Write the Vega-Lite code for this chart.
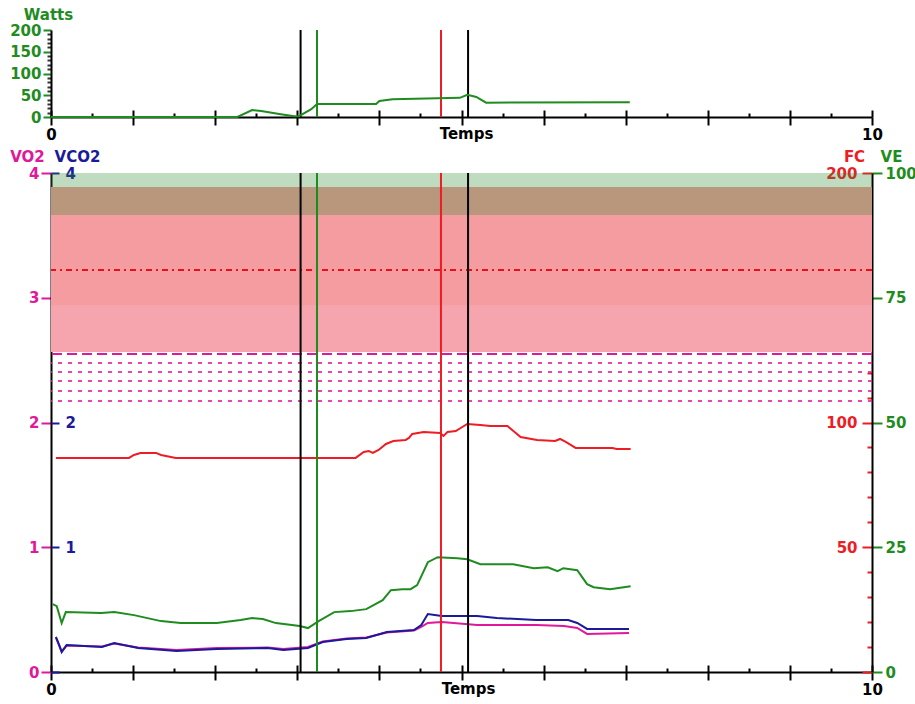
{
  "$schema": "https://vega.github.io/schema/vega-lite/v6.json",
  "background": "white",
  "padding": {"left": 9, "top": 7, "right": 0, "bottom": 0},
  "spacing": 7,
  "config": {
    "view": {"stroke": null},
    "font": "DejaVu Sans",
    "axis": {
      "labelFont": "DejaVu Sans", "labelFontWeight": "bold", "labelFontSize": 15,
      "titleFont": "DejaVu Sans", "titleFontWeight": "bold", "titleFontSize": 15,
      "grid": false, "domainWidth": 2, "domainColor": "black", "tickWidth": 2,
      "zindex": 1, "labelFlush": false, "labelOverlap": false, "labelBound": false
    }
  },
  "datasets": {
    "vlines": [{"t": 3.04, "c": "#000000"}, {"t": 3.24, "c": "#1e8c1e"}, {"t": 4.75, "c": "#ee1c24"}, {"t": 5.08, "c": "#000000"}],
    "watts": [
      {"t": 0, "w": 0}, {"t": 2.27, "w": 0}, {"t": 2.45, "w": 16}, {"t": 2.56, "w": 14}, {"t": 2.78, "w": 7},
      {"t": 2.96, "w": 2}, {"t": 3.02, "w": 2}, {"t": 3.17, "w": 18}, {"t": 3.24, "w": 30}, {"t": 3.96, "w": 30},
      {"t": 4.0, "w": 37}, {"t": 4.16, "w": 41}, {"t": 4.98, "w": 44}, {"t": 5.07, "w": 51}, {"t": 5.18, "w": 46},
      {"t": 5.3, "w": 33}, {"t": 7.05, "w": 34}
    ],
    "fc": [
      {"t": 0.06, "v": 85.8}, {"t": 0.95, "v": 85.8}, {"t": 1.01, "v": 87.0}, {"t": 1.09, "v": 87.8}, {"t": 1.28, "v": 87.8},
      {"t": 1.34, "v": 87.0}, {"t": 1.46, "v": 86.2}, {"t": 1.52, "v": 85.8}, {"t": 3.71, "v": 85.8}, {"t": 3.81, "v": 88.2},
      {"t": 3.87, "v": 88.6}, {"t": 3.92, "v": 87.8}, {"t": 3.99, "v": 89.0}, {"t": 4.08, "v": 91.4}, {"t": 4.17, "v": 92.6},
      {"t": 4.32, "v": 93.0}, {"t": 4.36, "v": 93.8}, {"t": 4.40, "v": 95.4}, {"t": 4.54, "v": 96.2}, {"t": 4.74, "v": 95.8},
      {"t": 4.78, "v": 94.6}, {"t": 4.83, "v": 96.2}, {"t": 4.93, "v": 96.6}, {"t": 4.99, "v": 97.8}, {"t": 5.07, "v": 99.4},
      {"t": 5.23, "v": 99.0}, {"t": 5.35, "v": 98.6}, {"t": 5.56, "v": 98.6}, {"t": 5.72, "v": 94.2}, {"t": 5.92, "v": 93.0},
      {"t": 6.14, "v": 92.6}, {"t": 6.20, "v": 93.4}, {"t": 6.27, "v": 92.2}, {"t": 6.33, "v": 91.0}, {"t": 6.39, "v": 89.8},
      {"t": 6.84, "v": 89.8}, {"t": 6.89, "v": 89.4}, {"t": 7.06, "v": 89.4}
    ],
    "ve": [
      {"t": 0.02, "v": 13.6}, {"t": 0.07, "v": 13.2}, {"t": 0.13, "v": 9.8}, {"t": 0.18, "v": 12.0}, {"t": 0.61, "v": 11.8},
      {"t": 0.77, "v": 12.0}, {"t": 1.01, "v": 11.4}, {"t": 1.34, "v": 10.2}, {"t": 1.58, "v": 9.8}, {"t": 2.02, "v": 9.8},
      {"t": 2.31, "v": 10.4}, {"t": 2.45, "v": 10.8}, {"t": 2.58, "v": 10.6}, {"t": 2.74, "v": 9.8}, {"t": 3.03, "v": 9.2},
      {"t": 3.13, "v": 8.8}, {"t": 3.26, "v": 10.2}, {"t": 3.45, "v": 12.0}, {"t": 3.65, "v": 12.2}, {"t": 3.84, "v": 12.6},
      {"t": 4.04, "v": 14.4}, {"t": 4.14, "v": 16.4}, {"t": 4.28, "v": 16.6}, {"t": 4.38, "v": 16.6}, {"t": 4.46, "v": 17.4},
      {"t": 4.59, "v": 22.0}, {"t": 4.71, "v": 23.0}, {"t": 4.95, "v": 22.8}, {"t": 5.07, "v": 22.6}, {"t": 5.23, "v": 21.6},
      {"t": 5.63, "v": 21.6}, {"t": 5.88, "v": 20.8}, {"t": 6.05, "v": 21.0}, {"t": 6.17, "v": 20.2}, {"t": 6.24, "v": 20.8},
      {"t": 6.41, "v": 20.4}, {"t": 6.53, "v": 17.6}, {"t": 6.61, "v": 17.0}, {"t": 6.81, "v": 16.6}, {"t": 7.06, "v": 17.2}
    ],
    "vco2": [
      {"t": 0.06, "v": 0.281}, {"t": 0.10, "v": 0.216}, {"t": 0.13, "v": 0.160}, {"t": 0.19, "v": 0.216}, {"t": 0.62, "v": 0.200},
      {"t": 0.77, "v": 0.232}, {"t": 1.06, "v": 0.192}, {"t": 1.53, "v": 0.168}, {"t": 2.02, "v": 0.184}, {"t": 2.64, "v": 0.192},
      {"t": 2.83, "v": 0.176}, {"t": 3.13, "v": 0.192}, {"t": 3.31, "v": 0.240}, {"t": 3.60, "v": 0.265}, {"t": 3.84, "v": 0.273},
      {"t": 4.09, "v": 0.321}, {"t": 4.42, "v": 0.337}, {"t": 4.51, "v": 0.377}, {"t": 4.59, "v": 0.465}, {"t": 4.76, "v": 0.449},
      {"t": 5.19, "v": 0.449}, {"t": 5.43, "v": 0.433}, {"t": 5.91, "v": 0.417}, {"t": 6.30, "v": 0.417}, {"t": 6.41, "v": 0.393},
      {"t": 6.53, "v": 0.345}, {"t": 7.04, "v": 0.345}
    ],
    "vo2": [
      {"t": 0.06, "v": 0.275}, {"t": 0.10, "v": 0.212}, {"t": 0.13, "v": 0.165}, {"t": 0.19, "v": 0.212}, {"t": 0.62, "v": 0.204},
      {"t": 0.77, "v": 0.228}, {"t": 1.06, "v": 0.196}, {"t": 1.53, "v": 0.176}, {"t": 2.02, "v": 0.192}, {"t": 2.64, "v": 0.196},
      {"t": 2.83, "v": 0.184}, {"t": 3.13, "v": 0.200}, {"t": 3.31, "v": 0.244}, {"t": 3.60, "v": 0.269}, {"t": 3.84, "v": 0.277},
      {"t": 4.09, "v": 0.317}, {"t": 4.42, "v": 0.333}, {"t": 4.51, "v": 0.361}, {"t": 4.59, "v": 0.393}, {"t": 4.76, "v": 0.401},
      {"t": 5.19, "v": 0.377}, {"t": 5.91, "v": 0.377}, {"t": 6.25, "v": 0.369}, {"t": 6.41, "v": 0.353}, {"t": 6.53, "v": 0.305},
      {"t": 7.04, "v": 0.313}
    ],
    "redband": [{"lo": 128.3, "hi": 194.4}],
    "pinkover": [{"lo": 2.565, "hi": 2.94}],
    "greenband": [{"lo": 91.6, "hi": 100}],
    "fcref": [{"v": 161.1}],
    "pinktop": [{"v": 2.549}],
    "pinklines": [{"v": 2.477}, {"v": 2.405}, {"v": 2.333}, {"v": 2.253}, {"v": 2.172}]
  },
  "vconcat": [
    {
      "width": 821, "height": 87,
      "resolve": {"scale": {"x": "independent"}},
      "layer": [
        {
          "data": {"name": "vlines"},
          "mark": {"type": "rule", "strokeWidth": 2},
          "encoding": {
            "x": {"field": "t", "type": "quantitative", "scale": {"domain": [0, 10]},
              "axis": {"orient": "bottom", "values": [0,0.5,1,1.5,2,2.5,3,3.5,4,4.5,5,5.5,6,6.5,7,7.5,8,8.5,9,9.5,10],
                "labels": false, "domain": false, "title": null, "tickColor": "black",
                "tickSize": {"condition": {"test": "datum.value % 1 === 0", "value": -7}, "value": -4}}},
            "color": {"field": "c", "type": "nominal", "scale": null}
          }
        },
        {
          "data": {"name": "watts"},
          "mark": {"type": "line", "color": "#1e8c1e", "strokeWidth": 2},
          "encoding": {
            "x": {"field": "t", "type": "quantitative", "scale": {"domain": [0, 10]},
              "axis": {"orient": "bottom", "values": [0,0.5,1,1.5,2,2.5,3,3.5,4,4.5,5,5.5,6,6.5,7,7.5,8,8.5,9,9.5,10],
                "format": "d",
                "labelExpr": "datum.value == 0 || datum.value == 10 ? datum.label : ''",
                "tickSize": {"condition": {"test": "datum.value % 1 === 0", "value": 8}, "value": 5},
                "tickColor": "black", "labelColor": "black", "labelPadding": 2,
                "title": "Temps", "titleColor": "black", "titleX": 415, "titleY": 9, "titleBaseline": "top", "titleAlign": "center"}},
            "y": {"field": "w", "type": "quantitative", "scale": {"domain": [0, 200]},
              "axis": {"orient": "left", "values": [0,10,20,30,40,50,60,70,80,90,100,110,120,130,140,150,160,170,180,190,200],
                "format": "d",
                "labelExpr": "datum.value % 50 === 0 ? datum.label : ''",
                "tickSize": {"condition": {"test": "datum.value % 50 === 0", "value": 8}, "value": 4},
                "tickColor": {"condition": {"test": "datum.value % 50 === 0", "value": "#1e8c1e"}, "value": "#333333"},
                "labelColor": "#1e8c1e", "labelPadding": 2, "labelBaseline": "middle",
                "title": "Watts", "titleColor": "#1e8c1e", "titleAngle": 0, "titleX": -3, "titleY": -16,
                "titleAlign": "center", "titleBaseline": "middle"}}
          }
        }
      ]
    },
    {
      "width": 821, "height": 499,
      "resolve": {"scale": {"x": "independent", "y": "independent"}},
      "layer": [
        {
          "data": {"name": "redband"},
          "mark": {"type": "rect", "color": "#f49ca0"},
          "encoding": {
            "x": {"datum": 0, "type": "quantitative", "scale": {"domain": [0, 10]}, "axis": null},
            "x2": {"datum": 10},
            "y": {"field": "lo", "type": "quantitative", "scale": {"domain": [0, 200]}, "axis": null},
            "y2": {"field": "hi"}
          }
        },
        {
          "data": {"name": "pinkover"},
          "mark": {"type": "rect", "color": "#f8b8cc", "opacity": 0.35},
          "encoding": {
            "x": {"datum": 0, "type": "quantitative", "scale": {"domain": [0, 10]}, "axis": null},
            "x2": {"datum": 10},
            "y": {"field": "lo", "type": "quantitative", "scale": {"domain": [0, 4]}, "axis": null},
            "y2": {"field": "hi"}
          }
        },
        {
          "data": {"name": "fcref"},
          "mark": {"type": "rule", "color": "#e8101c", "strokeWidth": 2, "strokeDash": [6, 4, 2, 4]},
          "encoding": {
            "y": {"field": "v", "type": "quantitative", "scale": {"domain": [0, 200]}, "axis": null}
          }
        },
        {
          "data": {"name": "pinktop"},
          "mark": {"type": "rule", "color": "#e0189a", "strokeWidth": 2, "strokeDash": [10, 5]},
          "encoding": {
            "y": {"field": "v", "type": "quantitative", "scale": {"domain": [0, 4]}, "axis": null}
          }
        },
        {
          "data": {"name": "pinklines"},
          "mark": {"type": "rule", "color": "#e0189a", "strokeWidth": 2, "strokeDash": [4, 6], "opacity": 0.8},
          "encoding": {
            "y": {"field": "v", "type": "quantitative", "scale": {"domain": [0, 4]}, "axis": null}
          }
        },
        {
          "data": {"name": "greenband"},
          "mark": {"type": "rect", "color": "#2e8b2e", "opacity": 0.3},
          "encoding": {
            "x": {"datum": 0, "type": "quantitative", "scale": {"domain": [0, 10]}, "axis": null},
            "x2": {"datum": 10},
            "y": {"field": "lo", "type": "quantitative", "scale": {"domain": [0, 100]}, "axis": null},
            "y2": {"field": "hi"}
          }
        },
        {
          "data": {"name": "fc"},
          "mark": {"type": "line", "color": "#ee1c24", "strokeWidth": 2},
          "encoding": {
            "x": {"field": "t", "type": "quantitative", "scale": {"domain": [0, 10]}, "axis": null},
            "y": {"field": "v", "type": "quantitative", "scale": {"domain": [0, 200]},
              "axis": {"orient": "right", "values": [0,10,20,30,40,50,60,70,80,90,100,110,120,130,140,150,160,170,180,190,200],
                "format": "d",
                "labelExpr": "datum.value % 50 === 0 && datum.value > 0 ? datum.label : ''",
                "tickSize": {"condition": {"test": "datum.value % 50 === 0", "value": -10}, "value": -5},
                "tickColor": "#ee1c24", "labelColor": "#ee1c24", "labelAlign": "right", "labelPadding": -5,
                "labelBaseline": "middle", "domain": false,
                "title": "FC", "titleColor": "#ee1c24", "titleAngle": 0, "titleX": -18, "titleY": -17,
                "titleAlign": "center", "titleBaseline": "middle"}}
          }
        },
        {
          "data": {"name": "ve"},
          "mark": {"type": "line", "color": "#1e8c1e", "strokeWidth": 2},
          "encoding": {
            "x": {"field": "t", "type": "quantitative", "scale": {"domain": [0, 10]}, "axis": null},
            "y": {"field": "v", "type": "quantitative", "scale": {"domain": [0, 100]},
              "axis": {"orient": "right", "values": [0, 25, 50, 75, 100], "tickSize": 10, "format": "d",
                "tickColor": "#1e8c1e", "labelColor": "#1e8c1e", "labelAlign": "left", "labelPadding": 3,
                "labelBaseline": "middle",
                "title": "VE", "titleColor": "#1e8c1e", "titleAngle": 0, "titleX": 19, "titleY": -17,
                "titleAlign": "center", "titleBaseline": "middle"}}
          }
        },
        {
          "data": {"name": "vo2"},
          "mark": {"type": "line", "color": "#e0189a", "strokeWidth": 2},
          "encoding": {
            "x": {"field": "t", "type": "quantitative", "scale": {"domain": [0, 10]},
              "axis": {"orient": "bottom", "values": [0,0.5,1,1.5,2,2.5,3,3.5,4,4.5,5,5.5,6,6.5,7,7.5,8,8.5,9,9.5,10],
                "format": "d",
                "labelExpr": "datum.value == 0 || datum.value == 10 ? datum.label : ''",
                "tickSize": {"condition": {"test": "datum.value % 1 === 0", "value": 8}, "value": 5},
                "tickColor": "black", "labelColor": "black", "labelPadding": 2,
                "title": "Temps", "titleColor": "black", "titleX": 417, "titleY": 9, "titleBaseline": "top", "titleAlign": "center"}},
            "y": {"field": "v", "type": "quantitative", "scale": {"domain": [0, 4]},
              "axis": {"orient": "left", "values": [0, 1, 2, 3, 4], "tickSize": 10, "format": "d",
                "tickColor": "#e0189a", "labelColor": "#e0189a", "labelPadding": 2, "labelBaseline": "middle",
                "title": "VO2", "titleColor": "#e0189a", "titleAngle": 0, "titleX": -24, "titleY": -17,
                "titleAlign": "center", "titleBaseline": "middle"}}
          }
        },
        {
          "data": {"name": "vco2"},
          "mark": {"type": "line", "color": "#1a1a9a", "strokeWidth": 2},
          "encoding": {
            "x": {"field": "t", "type": "quantitative", "scale": {"domain": [0, 10]}, "axis": null},
            "y": {"field": "v", "type": "quantitative", "scale": {"domain": [0, 4]},
              "axis": {"orient": "left", "values": [0,0.25,0.5,0.75,1,1.25,1.5,1.75,2,2.25,2.5,2.75,3,3.25,3.5,3.75,4],
                "format": "d",
                "labelExpr": "datum.value % 1 === 0 && datum.value > 0 ? datum.label : ''",
                "tickSize": {"condition": {"test": "datum.value % 1 === 0", "value": -8}, "value": -4},
                "tickColor": {"condition": {"test": "datum.value % 1 === 0", "value": "#1a1a9a"}, "value": "#333333"},
                "labelColor": "#1a1a9a", "labelAlign": "left", "labelPadding": -6, "labelBaseline": "middle",
                "domain": false,
                "title": "VCO2", "titleColor": "#1a1a9a", "titleAngle": 0, "titleX": 26, "titleY": -17,
                "titleAlign": "center", "titleBaseline": "middle"}}
          }
        },
        {
          "data": {"name": "vlines"},
          "mark": {"type": "rule", "strokeWidth": 2},
          "encoding": {
            "x": {"field": "t", "type": "quantitative", "scale": {"domain": [0, 10]},
              "axis": {"orient": "bottom", "values": [0,0.5,1,1.5,2,2.5,3,3.5,4,4.5,5,5.5,6,6.5,7,7.5,8,8.5,9,9.5,10],
                "labels": false, "domain": false, "title": null, "tickColor": "black",
                "tickSize": {"condition": {"test": "datum.value % 1 === 0", "value": -7}, "value": -4}}},
            "color": {"field": "c", "type": "nominal", "scale": null}
          }
        }
      ]
    }
  ]
}
